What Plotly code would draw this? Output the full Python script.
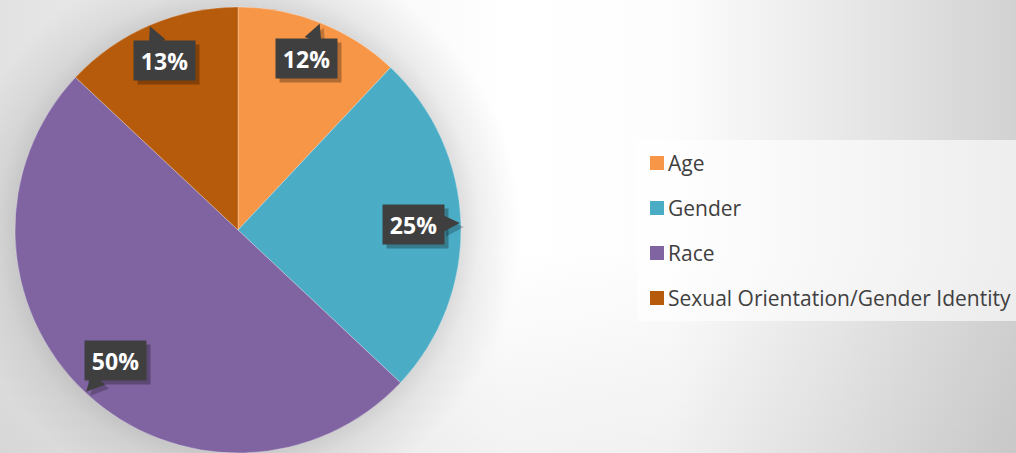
import base64
import math
import plotly.graph_objects as go

# ---- data ----
categories = ["Age", "Gender", "Race", "Sexual Orientation/Gender Identity"]
values = [12, 25, 50, 13]
colors = ["#F79646", "#4BACC6", "#8064A2", "#B65A0B"]

W, H = 1016, 453
# pie domain (paper) -> pixel geometry
dom_x = [14 / W, 462 / W]
dom_y = [0.0, 1 - 7 / H]
px_w = (dom_x[1] - dom_x[0]) * W
px_h = (dom_y[1] - dom_y[0]) * H
R = min(px_w, px_h) / 2
CX = (dom_x[0] + dom_x[1]) / 2 * W
CY = (1 - (dom_y[0] + dom_y[1]) / 2) * H

# background: soft gradients + pie halo, as an inline SVG
svg = f'''<svg xmlns="http://www.w3.org/2000/svg" width="{W}" height="{H}" viewBox="0 0 {W} {H}" preserveAspectRatio="none">
<defs>
<linearGradient id="bg" gradientUnits="userSpaceOnUse" x1="0" y1="0" x2="{W}" y2="0">
<stop offset="0" stop-color="#e2e2e2"/>
<stop offset="0.40" stop-color="#fafafa"/>
<stop offset="0.50" stop-color="#ffffff"/>
<stop offset="0.66" stop-color="#fdfdfd"/>
<stop offset="0.80" stop-color="#ececec"/>
<stop offset="1" stop-color="#d2d2d2"/>
</linearGradient>
<linearGradient id="vg" gradientUnits="userSpaceOnUse" x1="0" y1="250" x2="0" y2="{H}">
<stop offset="0" stop-color="#000" stop-opacity="0"/>
<stop offset="1" stop-color="#000" stop-opacity="0.05"/>
</linearGradient>
<radialGradient id="halo" gradientUnits="userSpaceOnUse" cx="{CX:.1f}" cy="{CY:.1f}" r="{R + 60:.1f}">
<stop offset="{R / (R + 60):.3f}" stop-color="#000" stop-opacity="0.12"/>
<stop offset="{(R + 18) / (R + 60):.3f}" stop-color="#000" stop-opacity="0.06"/>
<stop offset="1" stop-color="#000" stop-opacity="0"/>
</radialGradient>
</defs>
<rect x="0" y="0" width="{W}" height="{H}" fill="url(#bg)"/>
<rect x="0" y="0" width="{W}" height="{H}" fill="url(#vg)"/>
<rect x="0" y="0" width="{W}" height="{H}" fill="url(#halo)"/>
</svg>'''
bg_src = "data:image/svg+xml;base64," + base64.b64encode(svg.encode()).decode()

fig = go.Figure()
fig.add_trace(go.Pie(
    labels=categories,
    values=values,
    marker=dict(colors=colors, line=dict(color="rgba(255,255,255,0.35)", width=0.8)),
    sort=False,
    direction="clockwise",
    rotation=0,
    textinfo="none",
    domain=dict(x=dom_x, y=dom_y),
    showlegend=False,
))

# data-label callouts at slice midpoints
BOX_W, BOX_H = 63, 41          # full callout box size (px)
TAIL = 15                      # callout tail length (px)
total = sum(values)
cum = 0
annotations = []
for v in values:
    theta = 2 * math.pi * (cum + v / 2) / total
    cum += v
    s, c = math.sin(theta), math.cos(theta)
    r_tip = 0.995 * R
    ext = min((BOX_W / 2) / max(abs(s), 1e-6), (BOX_H / 2) / max(abs(c), 1e-6))
    r_box = r_tip - ext - TAIL
    tip_x, tip_y = CX + r_tip * s, CY - r_tip * c
    box_x, box_y = CX + r_box * s, CY - r_box * c
    txt = f"{v / total:.0%}"
    common = dict(
        x=tip_x / W, y=1 - tip_y / H, xref="paper", yref="paper",
        ax=box_x - tip_x, ay=box_y - tip_y,
        showarrow=True, arrowhead=2,
        arrowsize=1.8, arrowwidth=2, standoff=0,
        width=BOX_W - 8, height=BOX_H - 8, borderpad=3, align="center", valign="middle",
    )
    annotations.append(dict(common, text=" ", bgcolor="rgba(0,0,0,0.28)",
                            arrowcolor="rgba(0,0,0,0.22)",
                            font=dict(family="Open Sans", size=23, color="rgba(0,0,0,0)"),
                            xshift=4, yshift=-4))
    annotations.append(dict(common, text=f"<b>{txt}</b>", bgcolor="#3f3f3f", arrowcolor="#3f3f3f",
                            font=dict(family="Open Sans", size=23, color="#ffffff")))

# legend (custom, to reproduce spacing)
shapes = [dict(type="rect", xref="paper", yref="paper",
               x0=637 / W, x1=1.0, y0=1 - 321 / H, y1=1 - 140 / H,
               fillcolor="rgba(255,255,255,0.62)", line=dict(width=0), layer="below")]
row0, gap = 163, 45
for i, (lab, col) in enumerate(zip(categories, colors)):
    yc = row0 + i * gap
    shapes.append(dict(type="rect", xref="paper", yref="paper",
                       x0=650 / W, x1=664 / W, y0=1 - (yc + 7) / H, y1=1 - (yc - 7) / H,
                       fillcolor=col, line=dict(width=0)))
    annotations.append(dict(x=666 / W, y=1 - yc / H, xref="paper", yref="paper",
                            xanchor="left", yanchor="middle", showarrow=False,
                            text=lab, font=dict(family="Open Sans", size=21, color="#404040")))

fig.update_layout(
    width=W, height=H,
    margin=dict(l=0, r=0, t=0, b=0),
    paper_bgcolor="#f4f4f4",
    plot_bgcolor="rgba(0,0,0,0)",
    images=[dict(source=bg_src, xref="paper", yref="paper", x=0, y=1,
                 sizex=1, sizey=1, xanchor="left", yanchor="top",
                 sizing="stretch", layer="below")],
    shapes=shapes,
    annotations=annotations,
)

fig.write_html("out.html", config={"displayModeBar": False},
               post_script="document.body.style.margin='0';document.body.style.padding='0';")
